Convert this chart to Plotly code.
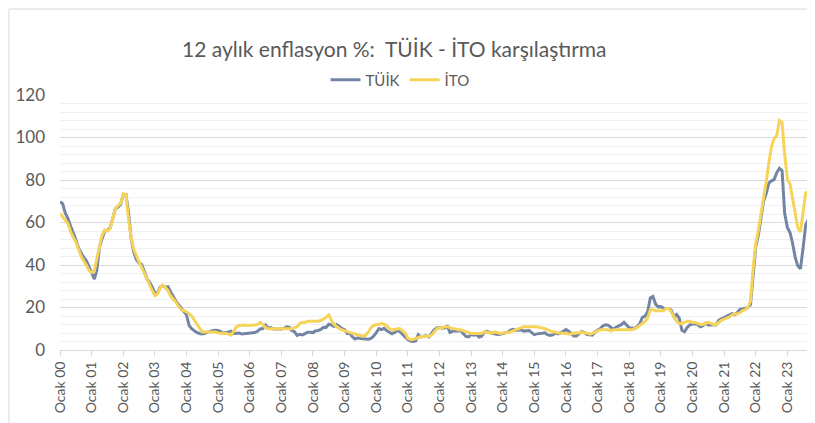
import pandas as pd
import plotly.graph_objects as go

# Monthly 12-month inflation, Jan 2000 - Oct 2023
tuik = [
    69.7, 68.9, 64.5, 62.0, 58.5, 55.5, 52.0, 48.0, 45.5, 43.5, 42.0, 39.0,  # 2000
    35.9, 33.4, 37.5, 48.3, 52.4, 56.1, 56.3, 57.5, 61.8, 66.5, 67.3, 68.5,  # 2001
    73.2, 73.1, 65.1, 52.7, 46.2, 42.6, 41.0, 40.2, 37.0, 33.5, 31.8, 29.7,  # 2002
    26.4, 27.0, 29.4, 30.3, 29.5, 29.8, 27.4, 24.9, 23.0, 21.3, 19.8, 18.4,  # 2003
    16.5, 11.5, 10.0, 9.0, 8.2, 7.8, 7.5, 7.8, 8.3, 8.8, 9.2, 9.3,  # 2004
    9.2, 8.7, 7.9, 8.2, 8.7, 8.9, 7.8, 7.9, 8.0, 7.5, 7.6, 7.7,  # 2005
    7.9, 8.2, 8.2, 8.8, 9.9, 10.1, 11.7, 10.3, 10.6, 9.9, 9.9, 9.7,  # 2006
    9.9, 10.2, 10.9, 10.7, 9.2, 8.6, 6.9, 7.4, 7.1, 7.7, 8.4, 8.4,  # 2007
    8.2, 9.1, 9.2, 9.7, 10.7, 10.6, 12.1, 11.8, 11.1, 12.0, 10.8, 10.1,  # 2008
    9.5, 7.7, 7.9, 6.1, 5.2, 5.7, 5.4, 5.3, 5.3, 5.1, 5.5, 6.5,  # 2009
    8.2, 10.1, 9.6, 10.2, 9.1, 8.4, 7.6, 8.3, 9.2, 8.6, 7.3, 6.4,  # 2010
    4.9, 4.2, 4.0, 4.3, 7.2, 6.2, 6.3, 6.7, 6.2, 7.7, 9.5, 10.4,  # 2011
    10.6, 10.4, 10.4, 11.1, 8.3, 8.9, 9.1, 8.9, 9.2, 7.8, 6.4, 6.2,  # 2012
    7.3, 7.0, 7.3, 6.1, 6.5, 8.3, 8.9, 8.2, 7.9, 7.7, 7.3, 7.4,  # 2013
    7.8, 7.9, 8.4, 9.4, 9.7, 9.2, 9.3, 9.5, 8.9, 9.0, 9.2, 8.2,  # 2014
    7.2, 7.6, 7.6, 7.9, 8.1, 7.2, 6.8, 7.1, 8.0, 7.6, 8.1, 8.8,  # 2015
    9.6, 8.8, 7.5, 6.6, 6.6, 7.6, 8.8, 8.1, 7.3, 7.2, 7.0, 8.5,  # 2016
    9.2, 10.1, 11.3, 11.9, 11.7, 10.9, 9.8, 10.7, 11.2, 11.9, 13.0, 11.9,  # 2017
    10.4, 10.3, 10.2, 10.9, 12.2, 15.4, 15.9, 17.9, 24.5, 25.2, 21.6, 20.3,  # 2018
    20.4, 19.7, 19.7, 19.5, 18.7, 15.7, 16.7, 15.0, 9.3, 8.6, 10.6, 11.8,  # 2019
    12.2, 12.4, 11.9, 10.9, 11.4, 12.6, 11.8, 11.8, 11.8, 11.9, 14.0, 14.6,  # 2020
    15.0, 15.6, 16.2, 17.1, 16.6, 17.5, 19.0, 19.3, 19.6, 19.9, 21.3, 36.1,  # 2021
    48.7, 54.4, 61.1, 70.0, 73.5, 78.6, 79.6, 80.2, 83.5, 85.5, 84.4, 64.3,  # 2022
    57.7, 55.2, 50.5, 43.7, 39.6, 38.2, 47.8, 58.9, 61.5, 61.4,  # 2023
]

ito = [
    64.3, 62.5, 61.0, 59.5, 56.0, 53.0, 51.0, 47.0, 44.0, 42.0, 40.0, 37.5,  # 2000
    36.5, 37.0, 43.0, 49.0, 54.0, 56.5, 56.0, 57.0, 62.0, 66.5, 68.0, 69.0,  # 2001
    73.5, 73.0, 62.0, 53.0, 47.5, 44.0, 41.5, 39.0, 36.0, 33.0, 30.5, 28.0,  # 2002
    25.5, 26.5, 29.0, 30.5, 29.5, 28.0, 25.5, 24.0, 22.5, 20.5, 19.0, 18.5,  # 2003
    18.0, 17.0, 16.0, 14.0, 12.0, 10.0, 8.5, 8.5, 8.5, 8.5, 8.5, 8.5,  # 2004
    8.0, 8.0, 7.8, 7.8, 7.5, 7.0, 9.0, 11.0, 11.5, 11.8, 11.8, 11.5,  # 2005
    11.5, 11.5, 11.8, 12.0, 13.0, 12.0, 10.5, 10.0, 10.0, 10.0, 10.0, 10.0,  # 2006
    10.0, 10.0, 10.0, 10.0, 10.0, 10.5, 11.0, 12.5, 13.0, 13.0, 13.5, 13.5,  # 2007
    13.5, 13.5, 13.5, 14.0, 14.5, 15.5, 16.5, 14.0, 12.0, 11.0, 10.0, 9.5,  # 2008
    9.0, 8.5, 8.0, 7.8, 7.5, 7.0, 6.8, 6.5, 7.0, 8.5, 10.5, 11.5,  # 2009
    12.0, 12.0, 12.5, 12.0, 11.5, 10.0, 9.5, 9.5, 10.0, 10.0, 9.0, 8.0,  # 2010
    5.5, 5.0, 5.0, 5.5, 6.0, 6.3, 6.3, 6.3, 6.5, 7.0, 8.5, 10.0,  # 2011
    10.5, 10.5, 11.0, 11.0, 10.5, 10.0, 10.0, 9.5, 9.5, 9.0, 8.5, 8.0,  # 2012
    7.8, 7.8, 7.8, 7.8, 7.8, 8.5, 8.5, 8.0, 8.0, 8.5, 8.0, 7.8,  # 2013
    8.0, 8.0, 8.2, 8.5, 9.0, 9.5, 10.0, 10.5, 11.0, 11.0, 11.0, 11.0,  # 2014
    11.0, 11.0, 10.5, 10.5, 10.0, 9.5, 9.0, 8.5, 8.5, 8.0, 8.0, 8.0,  # 2015
    7.8, 7.5, 7.5, 8.0, 8.0, 8.0, 8.5, 8.0, 8.0, 7.5, 7.8, 8.5,  # 2016
    9.0, 9.5, 9.5, 9.5, 9.5, 9.0, 9.5, 9.5, 9.5, 9.5, 9.5, 9.5,  # 2017
    9.5, 9.5, 10.0, 10.5, 11.5, 12.5, 13.5, 15.0, 19.0, 19.0, 18.5, 18.5,  # 2018
    18.5, 18.5, 19.5, 19.5, 18.0, 16.0, 13.5, 12.5, 12.5, 13.0, 13.5, 13.5,  # 2019
    13.0, 13.0, 12.5, 12.0, 12.0, 12.5, 13.0, 12.5, 12.0, 12.0, 13.0, 14.0,  # 2020
    14.5, 15.0, 15.5, 16.5, 17.0, 17.0, 17.5, 18.5, 19.0, 20.0, 23.0, 38.0,  # 2021
    50.0, 56.5, 63.5, 69.5, 79.0, 88.0, 95.5, 99.5, 101.0, 108.0, 107.0, 92.0,  # 2022
    80.5, 78.0, 72.0, 65.0, 57.5, 55.5, 64.0, 74.0, 74.5, 73.5,  # 2023
]

months = pd.date_range('2000-01-01', periods=len(tuik), freq='MS').strftime('%Y-%m-%d').tolist()
tick_dates = pd.date_range('2000-01-01', '2023-01-01', freq='YS').strftime('%Y-%m-%d').tolist()
tick_labels = ['Ocak ' + d[2:4] for d in tick_dates]

FONT = 'Lato'
GREY_TXT = '#595959'

fig = go.Figure()
fig.add_trace(go.Scatter(x=months, y=tuik, name='TÜİK', mode='lines',
                         line=dict(color='#7285a5', width=3)))
fig.add_trace(go.Scatter(x=months, y=ito, name='İTO', mode='lines',
                         line=dict(color='#f6d45a', width=3)))

# the page puts the figure 8px in from the top-left corner, so margins are offset
fig.update_layout(
    width=815, height=423,
    margin=dict(l=52, r=12, t=87, b=81, autoexpand=False),
    paper_bgcolor='white', plot_bgcolor='white',
    font=dict(family=FONT, color=GREY_TXT),
    title=dict(text='12 aylık enflasyon %:  TÜİK - İTO karşılaştırma',
               font=dict(size=21, color=GREY_TXT, family=FONT),
               xref='container', x=0.474, xanchor='center',
               yref='container', y=0.901, yanchor='middle'),
    legend=dict(orientation='h', xref='container', x=0.481, xanchor='center',
                yref='container', y=0.830, yanchor='middle',
                font=dict(size=15, color=GREY_TXT), bgcolor='rgba(0,0,0,0)',
                itemwidth=30, traceorder='normal'),
    xaxis=dict(
        type='date',
        range=[months[0], months[-1]],
        tickvals=tick_dates, ticktext=tick_labels, tickangle=-90,
        tickfont=dict(size=14, color=GREY_TXT),
        showgrid=False, showline=True, linecolor='#d9d9d9', linewidth=1,
        ticks='outside', ticklen=5, tickcolor='#d9d9d9',
        zeroline=False, automargin=False,
    ),
    yaxis=dict(
        range=[0, 120], dtick=20, tick0=0,
        tickfont=dict(size=17, color=GREY_TXT),
        showgrid=True, gridcolor='#d9d9d9', gridwidth=1,
        minor=dict(dtick=4, showgrid=True, gridcolor='#f0f0f0', gridwidth=1),
        zeroline=False, showline=False, ticklabelstandoff=14, automargin=False,
    ),
)

# faint chart frame (top and left edges)
fig.add_shape(type='line', xref='paper', yref='paper', x0=-0.068, x1=1.02, y0=1.337, y1=1.337,
              line=dict(color='#d9d9d9', width=1))
fig.add_shape(type='line', xref='paper', yref='paper', x0=-0.068, x1=-0.068, y0=-0.33, y1=1.337,
              line=dict(color='#d9d9d9', width=1))

fig.write_html('out.html')
